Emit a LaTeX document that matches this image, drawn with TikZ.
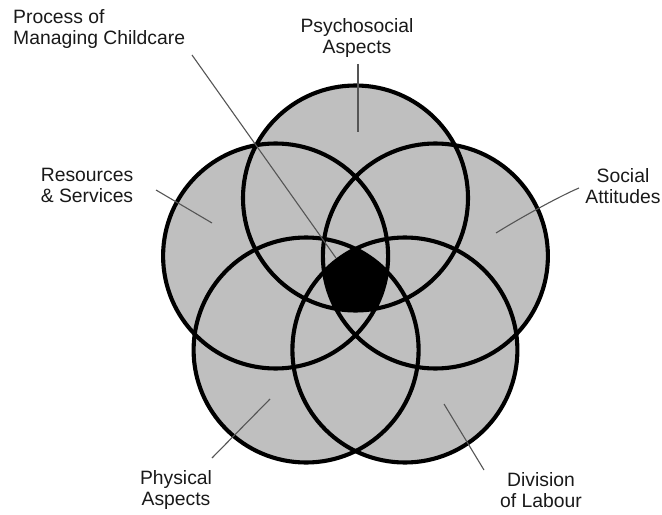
\documentclass[tikz,border=0pt]{standalone}
\usepackage{fontspec}
\setmainfont{Liberation Sans}
\definecolor{ringfill}{RGB}{191,191,191}
\definecolor{leadgray}{RGB}{85,85,85}
\definecolor{textgray}{RGB}{25,25,25}
\begin{document}
\begin{tikzpicture}[x=1bp,y=-1bp,
  ringfillstyle/.style={fill=ringfill},
  ringline/.style={draw=black,line width=4.1bp},
  leader/.style={draw=leadgray,line width=1.1bp},
  lbl/.style={inner sep=0pt,align=center,text=textgray,
    font=\fontsize{19.4}{21.1}\selectfont}]
\useasboundingbox (0,0) rectangle (662,515);
\def\rr{112.5}
% circle centres
\coordinate (cT)  at (355.5,198);
\coordinate (cL)  at (275.6,256);
\coordinate (cR)  at (435.4,256);
\coordinate (cBL) at (306.1,350);
\coordinate (cBR) at (404.9,350);
% fills
\foreach \c in {cT,cL,cR,cBL,cBR}
  \fill[ringfillstyle] (\c) circle[radius=\rr];
% common intersection
\begin{scope}
  \clip (cT) circle[radius=\rr];
  \clip (cL) circle[radius=\rr];
  \clip (cR) circle[radius=\rr];
  \clip (cBL) circle[radius=\rr];
  \fill[black] (cBR) circle[radius=\rr];
\end{scope}
% outlines
\foreach \c in {cT,cL,cR,cBL,cBR}
  \draw[ringline] (\c) circle[radius=\rr];
% labels
\node[lbl,anchor=north west,align=left] (proc) at (13,9) {Process of\\Managing Childcare};
\node[lbl,anchor=north] (psy) at (357,18) {Psychosocial\\Aspects};
\node[lbl,anchor=north] (res) at (87,168) {Resources\\\& Services};
\node[lbl,anchor=north] (soc) at (623,168) {Social\\Attitudes};
\node[lbl,anchor=north] (phy) at (176,470) {Physical\\Aspects};
\node[lbl,anchor=north] (div) at (541,472) {Division\\of Labour};
% leader ends
\coordinate (procA) at (192,55);   \coordinate (procB) at (336,258);
\coordinate (psyA)  at (358,64);   \coordinate (psyB)  at (358,132);
\coordinate (resA)  at (156,190);  \coordinate (resB)  at (212,223);
\coordinate (socA)  at (579,188);  \coordinate (socB)  at (496,233);
\coordinate (phyA)  at (212,458);  \coordinate (phyB)  at (270,399);
\coordinate (divA)  at (484,470);  \coordinate (divB)  at (444,404);
\draw[leader] (procA) -- (procB);
\draw[leader] (psyA) -- (psyB);
\draw[leader] (resA) -- (resB);
\draw[leader] (socA) .. controls (560,196) and (520,218) .. (socB);
\draw[leader] (phyA) -- (phyB);
\draw[leader] (divA) -- (divB);
\end{tikzpicture}
\end{document}
